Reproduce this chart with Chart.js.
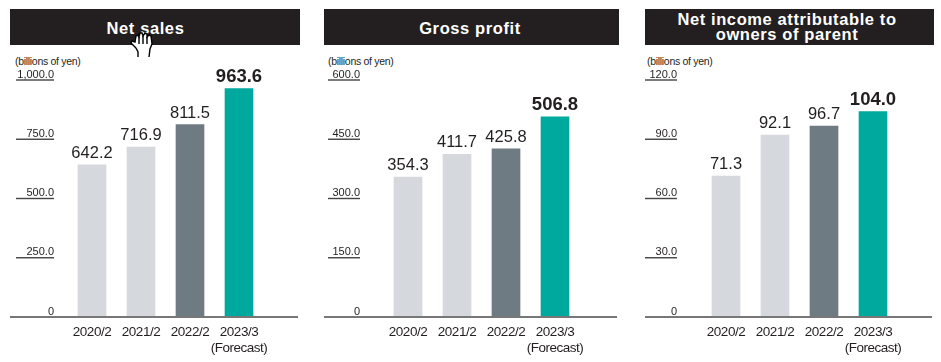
<!DOCTYPE html>
<html>
<head>
<meta charset="utf-8">
<script src="https://cdn.jsdelivr.net/npm/chart.js@4/dist/chart.umd.min.js"></script>
<style>
  html, body { margin: 0; padding: 0; background: #fff; }
  body { width: 941px; height: 362px; position: relative; overflow: hidden; font-family: "Liberation Sans", Arial, sans-serif; }
  .head { position: absolute; top: 9px; height: 36px; box-sizing: border-box; background: #231f20; color: #fff; font-weight: bold; font-size: 16.5px; letter-spacing: .6px; line-height: 15.3px; text-align: center; display: flex; align-items: center; justify-content: center; }
  .unit { position: absolute; top: 55px; font-size: 10.5px; color: #231f20; letter-spacing: -.3px; }
  canvas { position: absolute; top: 50px; }
  #hand { position: absolute; left: 130px; top: 32px; z-index: 2; }
</style>
</head>
<body>
<div class="head" style="left:10px;width:290px;padding:3px 19px 0 0">Net sales</div>
<div class="head" style="left:324px;width:295px;padding:3px 3px 0 0">Gross profit</div>
<div class="head" style="left:645px;width:289px;padding-right:5px">Net income attributable to<br>owners of parent</div>
<div class="unit" style="left:15px">(billions of yen)</div>
<div class="unit" style="left:328px">(billions of yen)</div>
<div class="unit" style="left:647px">(billions of yen)</div>
<canvas id="sales" width="290" height="305" style="left:10px"></canvas>
<canvas id="gross" width="295" height="305" style="left:324px"></canvas>
<canvas id="income" width="289" height="305" style="left:645px"></canvas>
<!-- mouse pointer caught in the reference screenshot -->
<svg id="hand" width="24" height="26" viewBox="0 0 24 26">
  <path d="M6 16 L1 11 L2 9 L5 10 L6 4 L8 3 L9 5 L10 1 L12 1 L13 4 L15 1 L17 2 L17 5 L19 3 L21 4 L22 12 L20 17 L19 25 M6 16 L8 20 L8 25" fill="#fff" stroke="#000" stroke-width="1.4"/>
  <path d="M9 5 L9 12 M13 4 L13 12 M17 5 L17 12" fill="none" stroke="#000" stroke-width="1.4"/>
</svg>
<script>
const years = ['2020/2', '2021/2', '2022/2', ['2023/3', '(Forecast)']];
const barColors = ['#d5d8dc', '#d5d8dc', '#6f7b82', '#00a99d'];

const salesValues = [642.2, 716.9, 811.5, 963.6];
const grossValues = [354.3, 411.7, 425.8, 506.8];
const incomeValues = [71.3, 92.1, 96.7, 104.0];

const salesTicks = [0, 250, 500, 750, 1000];
const grossTicks = [0, 150, 300, 450, 600];
const incomeTicks = [0, 30, 60, 90, 120];

const tickText = v => v === 0 ? '0' : v.toLocaleString('en-US', { minimumFractionDigits: 1 });

// axis rules sit left of the bars with the label above them, chart.js has no option for that
const panelMarks = {
  id: 'panelMarks',
  beforeDraw(chart) {
    // reference year labels are a bit condensed
    chart.ctx.letterSpacing = '-0.5px';
  },
  afterDraw(chart, args, opts) {
    const { ctx, width } = chart;
    const y = chart.scales.y;
    ctx.save();
    ctx.letterSpacing = '0px';
    ctx.textAlign = 'right';
    ctx.textBaseline = 'alphabetic';
    ctx.font = '11px "Liberation Sans"';
    y.ticks.forEach(tick => {
      const py = y.getPixelForValue(tick.value);
      if (tick.value !== 0) {
        ctx.fillStyle = '#444';
        ctx.fillRect(opts.ruleLeft, py - 0.7, opts.ruleRight - opts.ruleLeft, 1.4);
      }
      ctx.fillStyle = '#231f20';
      ctx.fillText(tickText(tick.value), opts.ruleRight, py - 2.5);
    });
    ctx.fillStyle = '#777';
    ctx.fillRect(0, Math.round(y.getPixelForValue(0)) - 1, width - 2, 2);

    const bars = chart.getDatasetMeta(0).data;
    const values = chart.data.datasets[0].data;
    ctx.textAlign = 'center';
    bars.forEach((bar, i) => {
      const last = i === bars.length - 1;
      ctx.font = (last ? 'bold 18.5px' : '16.5px') + ' "Liberation Sans"';
      ctx.fillStyle = '#231f20';
      ctx.fillText(values[i].toFixed(1), bar.x, bar.y - 7);
    });
    ctx.restore();
  },
};

function drawPanel(id, values, ticks, padLeft, padRight, ruleLeft, ruleRight) {
  new Chart(document.getElementById(id), {
    type: 'bar',
    data: {
      labels: years,
      datasets: [{ data: values, backgroundColor: barColors, barThickness: 28 }],
    },
    options: {
      responsive: false,
      animation: false,
      layout: { padding: { left: padLeft, right: padRight, top: 30, bottom: 0 } },
      plugins: {
        legend: { display: false },
        tooltip: { enabled: false },
        panelMarks: { ruleLeft, ruleRight },
      },
      scales: {
        x: {
          grid: { display: false },
          border: { display: false },
          afterFit: scale => { scale.height = 38; },
          ticks: {
            color: '#231f20',
            font: { family: '"Liberation Sans"', size: 13.5, lineHeight: 1.13 },
            maxRotation: 0,
            autoSkip: false,
            padding: 0,
          },
        },
        y: {
          min: ticks[0],
          max: ticks[ticks.length - 1],
          grid: { display: false },
          border: { display: false },
          afterFit: scale => { scale.width = 0; },
          afterBuildTicks: scale => { scale.ticks = ticks.map(value => ({ value })); },
          ticks: { display: false },
        },
      },
    },
    plugins: [panelMarks],
  });
}

drawPanel('sales', salesValues, salesTicks, 57.5, 36.5, 6, 44);
drawPanel('gross', grossValues, grossTicks, 59.5, 39.5, 4, 36);
drawPanel('income', incomeValues, incomeTicks, 56.5, 36.5, 0, 32);
</script>
</body>
</html>
